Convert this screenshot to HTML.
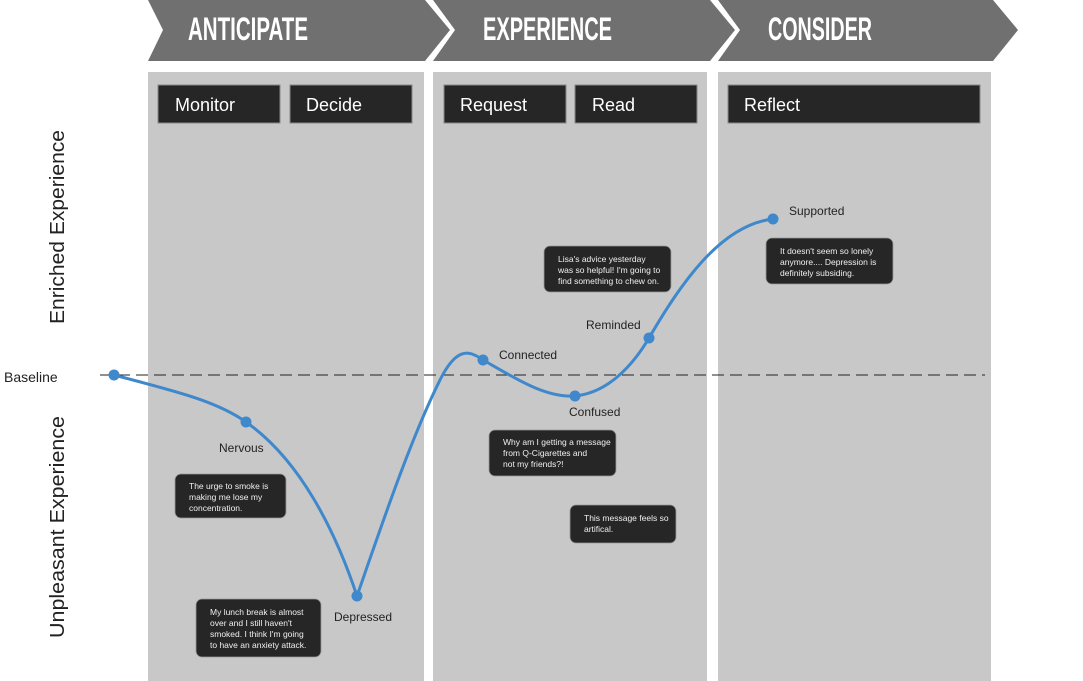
<!DOCTYPE html>
<html><head><meta charset="utf-8"><style>
html,body{margin:0;padding:0;background:#fff;}
svg{display:block;font-family:"Liberation Sans",Arial,sans-serif;}
.hd{font-family:"Liberation Sans",sans-serif;font-weight:bold;font-size:32px;fill:#fff;}
.bx{fill:#262626;stroke:#888;stroke-width:1;}
.bt{fill:#fff;font-size:18px;}
.lb{fill:#222;font-size:12px;}
.bb{fill:#262626;stroke:#999;stroke-width:0.8;}
.bbt{fill:#f0f0f0;font-size:8.5px;}
</style></head><body>
<svg width="1083" height="681" viewBox="0 0 1083 681">
<polygon points="148,0 425,0 450,30 425,61 148,61 163,30" fill="#707070"/>
<polygon points="433,0 710,0 735,30 710,61 433,61 455,30" fill="#707070"/>
<polygon points="718,0 993,0 1018,30 993,61 718,61 740,30" fill="#707070"/>
<text class="hd" x="188" y="40" textLength="120" lengthAdjust="spacingAndGlyphs">ANTICIPATE</text>
<text class="hd" x="483" y="40" textLength="129" lengthAdjust="spacingAndGlyphs">EXPERIENCE</text>
<text class="hd" x="768" y="40" textLength="104" lengthAdjust="spacingAndGlyphs">CONSIDER</text>
<rect x="148" y="72" width="276" height="609" fill="#c8c8c8"/>
<rect x="433" y="72" width="274" height="609" fill="#c8c8c8"/>
<rect x="718" y="72" width="273" height="609" fill="#c8c8c8"/>
<rect class="bx" x="158" y="85" width="122" height="38"/><text class="bt" x="175" y="111">Monitor</text>
<rect class="bx" x="290" y="85" width="122" height="38"/><text class="bt" x="306" y="111">Decide</text>
<rect class="bx" x="444" y="85" width="122" height="38"/><text class="bt" x="460" y="111">Request</text>
<rect class="bx" x="575" y="85" width="122" height="38"/><text class="bt" x="592" y="111">Read</text>
<rect class="bx" x="728" y="85" width="252" height="38"/><text class="bt" x="744" y="111">Reflect</text>
<text x="0" y="0" font-size="20" fill="#222" text-anchor="middle" textLength="194" lengthAdjust="spacingAndGlyphs" transform="translate(64,227) rotate(-90)">Enriched Experience</text>
<text x="0" y="0" font-size="20" fill="#222" text-anchor="middle" textLength="222" lengthAdjust="spacingAndGlyphs" transform="translate(64,527) rotate(-90)">Unpleasant Experience</text>
<text x="4" y="382" font-size="14" fill="#222">Baseline</text>
<line x1="100" y1="375" x2="985" y2="375" stroke="#222" stroke-width="1" stroke-dasharray="12,6"/>
<path d="M114,375 C170,390 215,400 246,422 C300,460 335,530 357,596 C380,530 410,440 440,380 C450,360 460,350 472,354 C478,356 480,358 483,360 C515,378 545,398 575,396 C605,393 630,370 649,338 C680,285 720,225 773,219" fill="none" stroke="#3f88cc" stroke-width="3"/>
<g fill="#3f88cc">
<circle cx="114" cy="375" r="5.5"/><circle cx="246" cy="422" r="5.5"/><circle cx="357" cy="596" r="5.5"/>
<circle cx="483" cy="360" r="5.5"/><circle cx="575" cy="396" r="5.5"/><circle cx="649" cy="338" r="5.5"/><circle cx="773" cy="219" r="5.5"/>
</g>
<text class="lb" x="219" y="452">Nervous</text>
<text class="lb" x="334" y="621">Depressed</text>
<text class="lb" x="499" y="359">Connected</text>
<text class="lb" x="569" y="416">Confused</text>
<text class="lb" x="586" y="329">Reminded</text>
<text class="lb" x="789" y="215">Supported</text>
<rect class="bb" x="175" y="474" width="111" height="44" rx="6"/>
<text class="bbt"><tspan x="189" y="489">The urge to smoke is</tspan><tspan x="189" y="500">making me lose my</tspan><tspan x="189" y="511">concentration.</tspan></text>
<rect class="bb" x="196" y="599" width="125" height="58" rx="6"/>
<text class="bbt"><tspan x="210" y="615">My lunch break is almost</tspan><tspan x="210" y="626">over and I still haven't</tspan><tspan x="210" y="637">smoked. I think I'm going</tspan><tspan x="210" y="648">to have an anxiety attack.</tspan></text>
<rect class="bb" x="489" y="430" width="127" height="46" rx="6"/>
<text class="bbt"><tspan x="503" y="445">Why am I getting a message</tspan><tspan x="503" y="456">from Q-Cigarettes and</tspan><tspan x="503" y="467">not my friends?!</tspan></text>
<rect class="bb" x="570" y="505" width="106" height="38" rx="6"/>
<text class="bbt"><tspan x="584" y="521">This message feels so</tspan><tspan x="584" y="532">artifical.</tspan></text>
<rect class="bb" x="544" y="246" width="127" height="46" rx="6"/>
<text class="bbt"><tspan x="558" y="262">Lisa's advice yesterday</tspan><tspan x="558" y="273">was so helpful! I'm going to</tspan><tspan x="558" y="284">find something to chew on.</tspan></text>
<rect class="bb" x="766" y="238" width="127" height="46" rx="6"/>
<text class="bbt"><tspan x="780" y="254">It doesn't seem so lonely</tspan><tspan x="780" y="265">anymore.... Depression is</tspan><tspan x="780" y="276">definitely subsiding.</tspan></text>
</svg>
</body></html>
